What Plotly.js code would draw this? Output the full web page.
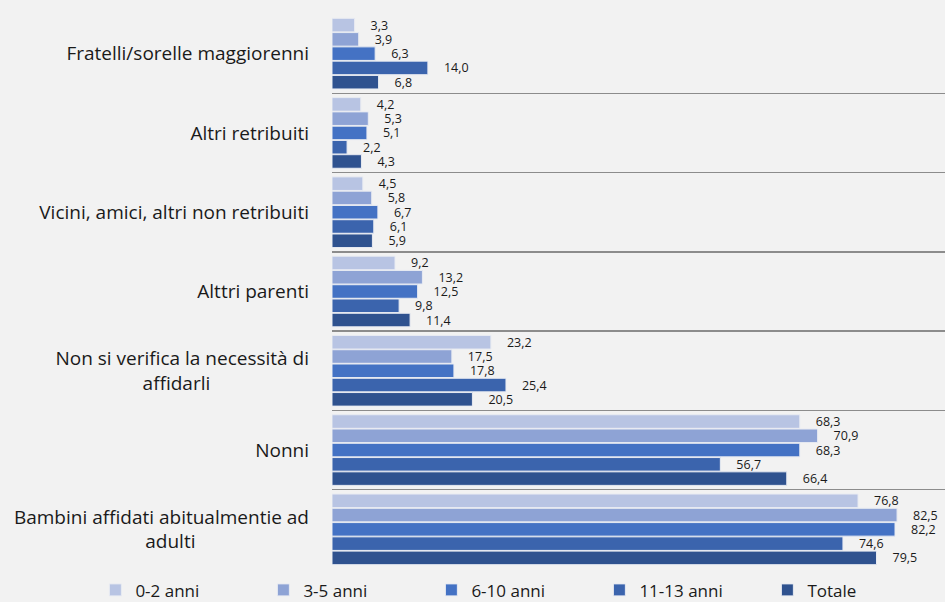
<!DOCTYPE html>
<html><head><meta charset="utf-8">
<script src="https://cdn.plot.ly/plotly-3.0.1.min.js"></script>
<style>html,body{margin:0;padding:0;background:#f2f2f2;}#chart{width:945px;height:602px;}</style>
</head><body><div id="chart"></div>
<script>
const NB = '\u00a0';
const categories = [
  'Fratelli/sorelle maggiorenni',
  'Altri retribuiti',
  'Vicini, amici, altri non retribuiti',
  'Alttri parenti',
  'Non si verifica la necessità di<br>affidarli' + NB.repeat(20),
  'Nonni',
  'Bambini affidati abitualmentie ad<br>adulti' + NB.repeat(23)
];
const seriesNames = ['0-2 anni', '3-5 anni', '6-10 anni', '11-13 anni', 'Totale'];
const v0_2   = [3.3, 4.2, 4.5, 9.2, 23.2, 68.3, 76.8];
const v3_5   = [3.9, 5.3, 5.8, 13.2, 17.5, 70.9, 82.5];
const v6_10  = [6.3, 5.1, 6.7, 12.5, 17.8, 68.3, 82.2];
const v11_13 = [14.0, 2.2, 6.1, 9.8, 25.4, 56.7, 74.6];
const vTot   = [6.8, 4.3, 5.9, 11.4, 20.5, 66.4, 79.5];
const seriesValues = [v0_2, v3_5, v6_10, v11_13, vTot];
const colors = ['#b8c4e3', '#8ea3d5', '#4472c4', '#3b64ad', '#2f528f'];

const traces = seriesNames.map((n, i) => ({
  type: 'bar', orientation: 'h', name: n,
  y: categories, x: seriesValues[i],
  marker: {color: colors[i], line: {color: '#e8ebf2', width: 1}},
  texttemplate: NB.repeat(4) + '%{x:.1f}',
  textposition: 'outside', cliponaxis: false, constraintext: 'none',
  textfont: {family: '"Open Sans", sans-serif', size: 12.5, color: '#1a1a1a'},
  hoverinfo: 'skip'
}));

const layout = {
  width: 945, height: 602,
  paper_bgcolor: '#f2f2f2', plot_bgcolor: '#f2f2f2',
  separators: ',.',
  barmode: 'group', bargap: 0.1, bargroupgap: 0.05,
  margin: {l: 332, r: 0, t: 14, b: 33, autoexpand: false},
  font: {family: '"Open Sans", sans-serif', color: '#1a1a1a'},
  xaxis: {range: [0, 89.5], visible: false, fixedrange: true},
  yaxis: {
    autorange: 'reversed', type: 'category',
    tickson: 'boundaries', showgrid: true, gridcolor: '#8c8c8c', gridwidth: 1.5,
    ticks: '', ticklen: 0, showline: false, zeroline: false,
    tickfont: {size: 19, color: '#1a1a1a'}, ticklabelstandoff: 22
  },
  showlegend: true,
  legend: {
    orientation: 'h', xref: 'paper', yref: 'paper',
    x: -0.386, y: -0.006, xanchor: 'left', yanchor: 'top',
    entrywidth: 123, entrywidthmode: 'pixels',
    itemwidth: 30, font: {size: 17, color: '#1a1a1a'}, bgcolor: 'rgba(0,0,0,0)'
  }
};
Plotly.newPlot('chart', traces, layout, {staticPlot: true});
</script></body></html>
